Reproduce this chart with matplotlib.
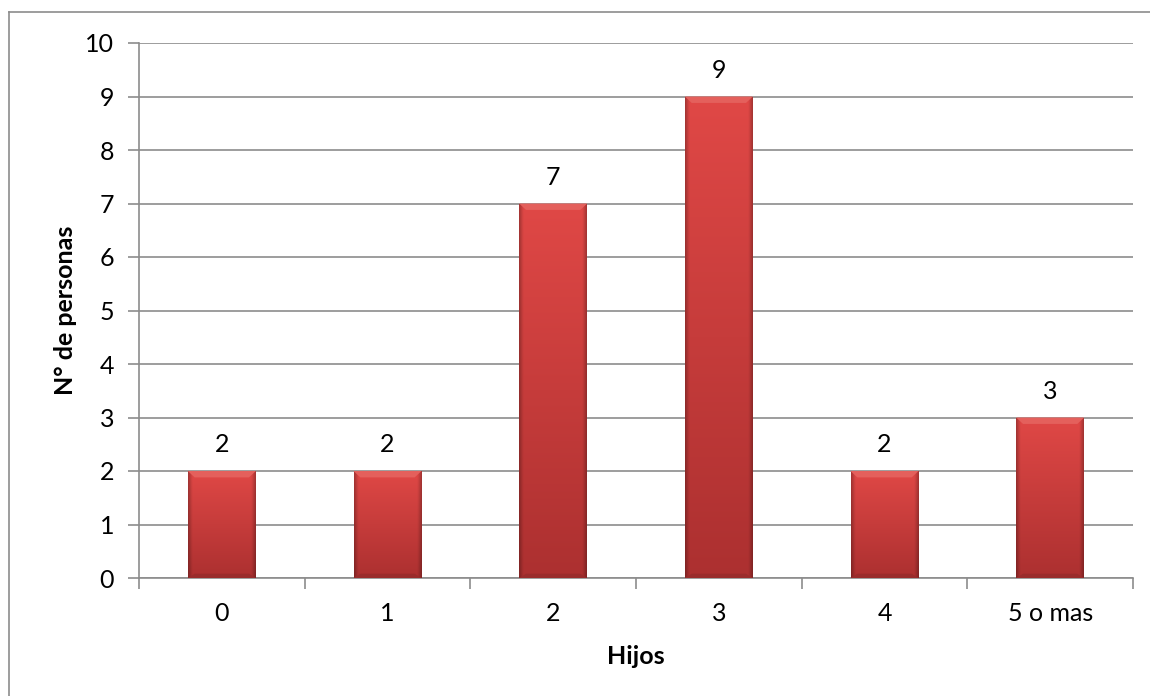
import numpy as np
import matplotlib
matplotlib.use("Agg")
import matplotlib.pyplot as plt
from matplotlib.patches import Polygon
from matplotlib.lines import Line2D

categories = ["0", "1", "2", "3", "4", "5 o mas"]
values = [2, 2, 7, 9, 2, 3]
y_ticks = list(range(0, 11))
x_label = "Hijos"
y_label = "N° de personas"

plt.rcParams["font.family"] = ["Lato", "DejaVu Sans"]
FS = 18

fig = plt.figure(figsize=(11.5, 6.96), dpi=100)
ax = fig.add_axes([139 / 1150, 1 - 578 / 696, (1133 - 139) / 1150, (578 - 43) / 696])

# outer chart frame (only left and top edges fall inside the canvas)
fig.add_artist(Line2D([9 / 1150, 9 / 1150], [1 - 12 / 696, 0], color="#8c8c8c", lw=1.2))
fig.add_artist(Line2D([9 / 1150, 1], [1 - 12 / 696, 1 - 12 / 696], color="#8c8c8c", lw=1.2))

x = np.arange(len(categories))
width = 0.41
bars = ax.bar(x, values, width=width, color="#c93c3c", zorder=3, edgecolor="none")

# shaded fill for each bar: lighter top, darker bottom, darker sides
ny, nx = 200, 60
yy = np.linspace(0, 1, ny)[:, None]   # 0 = bottom, 1 = top
xx = np.linspace(0, 1, nx)[None, :]
top = np.array([224, 72, 70]) / 255
bot = np.array([172, 48, 48]) / 255
base = bot[None, None, :] + (top - bot)[None, None, :] * yy[..., None]
side = np.minimum(xx, 1 - xx)
shade = 1 - 0.25 * np.clip(1 - side / 0.06, 0, 1)
img = np.clip(base * shade[..., None], 0, 1)
img = img[::-1]

for rect, v in zip(bars, values):
    x0 = rect.get_x()
    w = rect.get_width()
    im = ax.imshow(img, extent=[x0, x0 + w, 0, v], aspect="auto",
                   interpolation="bilinear", zorder=3.1)
    im.set_clip_path(rect)
    # bevel on top edge
    bh = 0.12
    bw = w * 0.1
    ax.add_patch(Polygon([[x0, v], [x0 + w, v], [x0 + w - bw, v - bh], [x0 + bw, v - bh]],
                         closed=True, facecolor="#e4605c", edgecolor="none", zorder=3.2))
    # bottom shadow strip
    ax.add_patch(Polygon([[x0, 0], [x0 + w, 0], [x0 + w - bw, 0.08], [x0 + bw, 0.08]],
                         closed=True, facecolor="#9a2c2c", edgecolor="none", zorder=3.2))
    ax.text(x0 + w / 2, v + 0.28, str(v), ha="center", va="bottom", fontsize=FS, color="black")

ax.set_xlim(-0.5, len(categories) - 0.5)
ax.set_ylim(0, 10)
ax.set_yticks(y_ticks)
ax.set_yticklabels([str(t) for t in y_ticks], fontsize=FS)
ax.set_xticks(x)
ax.set_xticklabels(categories, fontsize=FS)
ax.tick_params(axis="x", length=0, pad=17)
ax.tick_params(axis="y", length=8, width=1.2, color="#8c8c8c", pad=10)
# category boundary ticks
ax.set_xticks(np.arange(-0.5, len(categories), 1), minor=True)
ax.tick_params(axis="x", which="minor", length=8, width=1.2, color="#8c8c8c")

ax.yaxis.grid(True, color="#8c8c8c", lw=1.2, zorder=0)
ax.set_axisbelow(True)
for s in ["top", "right"]:
    ax.spines[s].set_visible(False)
for s in ["left", "bottom"]:
    ax.spines[s].set_color("#8c8c8c")
    ax.spines[s].set_linewidth(1.2)

ax.set_xlabel(x_label, fontsize=FS, fontweight="bold", labelpad=15)
ax.set_ylabel(y_label, fontsize=FS, fontweight="bold", labelpad=6)

fig.savefig("out.png", dpi=100)
